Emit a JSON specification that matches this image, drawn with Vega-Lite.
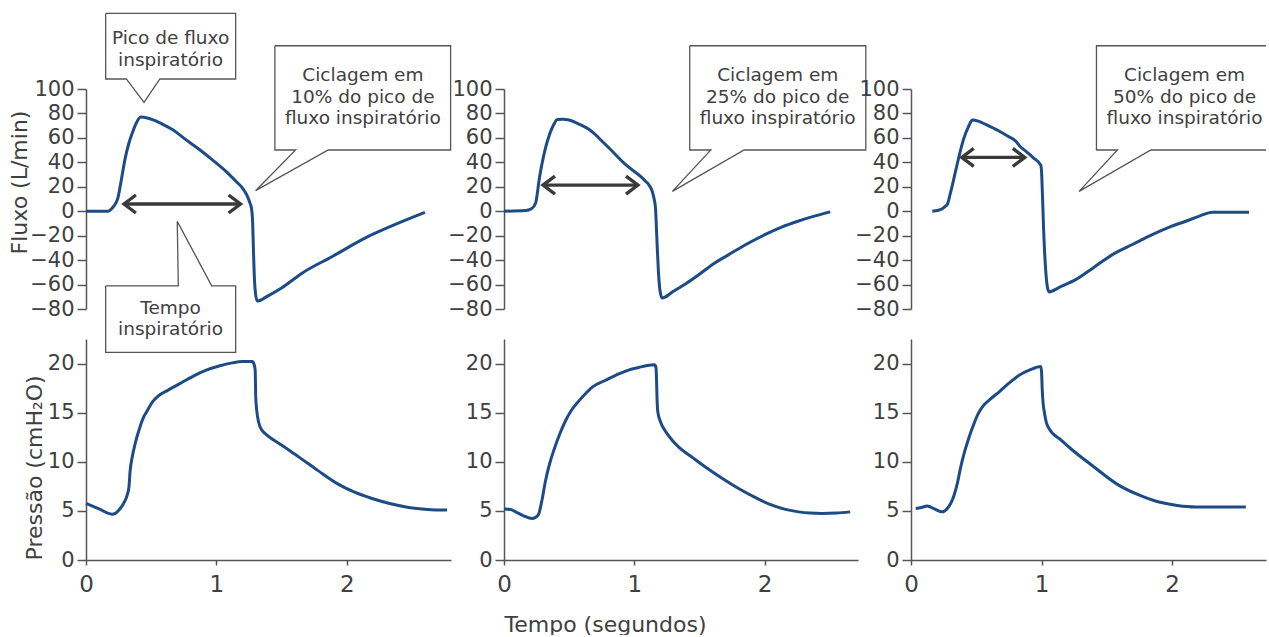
{
"$schema":"https://vega.github.io/schema/vega-lite/v6.json",
"background":"white",
"padding":{"left":8,"top":10,"right":0,"bottom":0},
"config":{"font":"DejaVu Sans","view":{"stroke":null},
"axis":{"domainColor":"#555555","domainWidth":1.5,"tickColor":"#555555","tickWidth":1.5,"labelColor":"#404040","titleColor":"#404040","titleFontWeight":"normal","grid":false,"labelFlush":false,"labelOverlap":false,"labelFont":"DejaVu Sans","titleFont":"DejaVu Sans"}},
"datasets":{
"flow":[
{"p":"p1","t":0,"v":0},{"p":"p1","t":0.1,"v":0},{"p":"p1","t":0.17,"v":0},{"p":"p1","t":0.2,"v":2.5},{"p":"p1","t":0.225,"v":6},{"p":"p1","t":0.245,"v":11},{"p":"p1","t":0.27,"v":25},{"p":"p1","t":0.3,"v":43},{"p":"p1","t":0.33,"v":56},{"p":"p1","t":0.355,"v":64},{"p":"p1","t":0.385,"v":72},{"p":"p1","t":0.42,"v":77},{"p":"p1","t":0.47,"v":76.3},{"p":"p1","t":0.52,"v":74.5},{"p":"p1","t":0.6,"v":70.5},{"p":"p1","t":0.66,"v":67},{"p":"p1","t":0.76,"v":59},{"p":"p1","t":0.87,"v":50.5},{"p":"p1","t":0.97,"v":42},{"p":"p1","t":1.07,"v":33},{"p":"p1","t":1.15,"v":24.5},{"p":"p1","t":1.2,"v":19},{"p":"p1","t":1.235,"v":13},{"p":"p1","t":1.255,"v":7.5},{"p":"p1","t":1.27,"v":2},{"p":"p1","t":1.278,"v":-8},{"p":"p1","t":1.284,"v":-30},{"p":"p1","t":1.29,"v":-50},{"p":"p1","t":1.298,"v":-65},{"p":"p1","t":1.313,"v":-73.5},{"p":"p1","t":1.4,"v":-69},{"p":"p1","t":1.5,"v":-62.8},{"p":"p1","t":1.66,"v":-50.5},{"p":"p1","t":1.89,"v":-37},{"p":"p1","t":2.14,"v":-22},{"p":"p1","t":2.4,"v":-9.6},{"p":"p1","t":2.6,"v":-1},
{"p":"p2","t":0,"v":0},{"p":"p2","t":0.166,"v":0.5},{"p":"p2","t":0.21,"v":2},{"p":"p2","t":0.243,"v":6.8},{"p":"p2","t":0.255,"v":14},{"p":"p2","t":0.268,"v":24.6},{"p":"p2","t":0.29,"v":38},{"p":"p2","t":0.319,"v":52},{"p":"p2","t":0.35,"v":63},{"p":"p2","t":0.38,"v":70.5},{"p":"p2","t":0.409,"v":75},{"p":"p2","t":0.45,"v":75.2},{"p":"p2","t":0.5,"v":74.6},{"p":"p2","t":0.57,"v":71.5},{"p":"p2","t":0.651,"v":67},{"p":"p2","t":0.779,"v":54.6},{"p":"p2","t":0.932,"v":38.3},{"p":"p2","t":1.086,"v":24.6},{"p":"p2","t":1.115,"v":21},{"p":"p2","t":1.137,"v":16.4},{"p":"p2","t":1.152,"v":10},{"p":"p2","t":1.162,"v":3},{"p":"p2","t":1.168,"v":-10},{"p":"p2","t":1.175,"v":-28},{"p":"p2","t":1.185,"v":-50},{"p":"p2","t":1.197,"v":-65},{"p":"p2","t":1.213,"v":-71},{"p":"p2","t":1.3,"v":-65.5},{"p":"p2","t":1.4,"v":-59},{"p":"p2","t":1.494,"v":-52},{"p":"p2","t":1.6,"v":-43.5},{"p":"p2","t":1.724,"v":-35.5},{"p":"p2","t":1.86,"v":-27},{"p":"p2","t":2.005,"v":-19},{"p":"p2","t":2.13,"v":-13},{"p":"p2","t":2.26,"v":-8},{"p":"p2","t":2.38,"v":-4},{"p":"p2","t":2.503,"v":-0.5},
{"p":"p3","t":0.163,"v":0},{"p":"p3","t":0.21,"v":0.8},{"p":"p3","t":0.24,"v":2},{"p":"p3","t":0.262,"v":4},{"p":"p3","t":0.278,"v":5.5},{"p":"p3","t":0.3,"v":14},{"p":"p3","t":0.342,"v":33},{"p":"p3","t":0.375,"v":48},{"p":"p3","t":0.406,"v":60},{"p":"p3","t":0.44,"v":69},{"p":"p3","t":0.47,"v":74.6},{"p":"p3","t":0.52,"v":73.5},{"p":"p3","t":0.572,"v":71},{"p":"p3","t":0.674,"v":65.6},{"p":"p3","t":0.74,"v":61.5},{"p":"p3","t":0.802,"v":57.4},{"p":"p3","t":0.84,"v":52.5},{"p":"p3","t":0.879,"v":49.2},{"p":"p3","t":0.94,"v":43.5},{"p":"p3","t":0.994,"v":37.7},{"p":"p3","t":1.0,"v":33},{"p":"p3","t":1.005,"v":20},{"p":"p3","t":1.01,"v":5},{"p":"p3","t":1.015,"v":-12},{"p":"p3","t":1.02,"v":-25},{"p":"p3","t":1.03,"v":-45},{"p":"p3","t":1.042,"v":-60},{"p":"p3","t":1.057,"v":-66},{"p":"p3","t":1.15,"v":-61.5},{"p":"p3","t":1.262,"v":-56},{"p":"p3","t":1.4,"v":-46},{"p":"p3","t":1.543,"v":-35.5},{"p":"p3","t":1.7,"v":-27},{"p":"p3","t":1.849,"v":-19.1},{"p":"p3","t":1.98,"v":-13},{"p":"p3","t":2.105,"v":-8.2},{"p":"p3","t":2.21,"v":-4},{"p":"p3","t":2.31,"v":-0.8},{"p":"p3","t":2.45,"v":-0.8},{"p":"p3","t":2.59,"v":-0.8}
],
"pres":[
{"p":"p1","t":0,"v":5.76},{"p":"p1","t":0.1,"v":5.2},{"p":"p1","t":0.2,"v":4.67},{"p":"p1","t":0.225,"v":4.75},{"p":"p1","t":0.253,"v":5.08},{"p":"p1","t":0.29,"v":5.8},{"p":"p1","t":0.316,"v":6.6},{"p":"p1","t":0.33,"v":7.5},{"p":"p1","t":0.338,"v":9},{"p":"p1","t":0.355,"v":10.5},{"p":"p1","t":0.38,"v":12},{"p":"p1","t":0.406,"v":13.2},{"p":"p1","t":0.44,"v":14.5},{"p":"p1","t":0.47,"v":15.2},{"p":"p1","t":0.51,"v":16.1},{"p":"p1","t":0.559,"v":16.75},{"p":"p1","t":0.63,"v":17.3},{"p":"p1","t":0.712,"v":17.9},{"p":"p1","t":0.82,"v":18.7},{"p":"p1","t":0.917,"v":19.3},{"p":"p1","t":1.02,"v":19.75},{"p":"p1","t":1.121,"v":20.07},{"p":"p1","t":1.2,"v":20.2},{"p":"p1","t":1.275,"v":20.2},{"p":"p1","t":1.29,"v":19.9},{"p":"p1","t":1.298,"v":19.3},{"p":"p1","t":1.3,"v":18},{"p":"p1","t":1.302,"v":16.6},{"p":"p1","t":1.31,"v":15.2},{"p":"p1","t":1.325,"v":14},{"p":"p1","t":1.35,"v":13.2},{"p":"p1","t":1.377,"v":12.85},{"p":"p1","t":1.5,"v":11.7},{"p":"p1","t":1.632,"v":10.5},{"p":"p1","t":1.78,"v":9.1},{"p":"p1","t":1.938,"v":7.7},{"p":"p1","t":2.06,"v":6.9},{"p":"p1","t":2.194,"v":6.26},{"p":"p1","t":2.33,"v":5.75},{"p":"p1","t":2.475,"v":5.35},{"p":"p1","t":2.62,"v":5.15},{"p":"p1","t":2.77,"v":5.08},
{"p":"p2","t":0,"v":5.18},{"p":"p2","t":0.05,"v":5.15},{"p":"p2","t":0.09,"v":4.9},{"p":"p2","t":0.15,"v":4.5},{"p":"p2","t":0.217,"v":4.23},{"p":"p2","t":0.25,"v":4.4},{"p":"p2","t":0.268,"v":4.74},{"p":"p2","t":0.29,"v":6},{"p":"p2","t":0.319,"v":8.1},{"p":"p2","t":0.35,"v":9.8},{"p":"p2","t":0.383,"v":11.2},{"p":"p2","t":0.43,"v":12.9},{"p":"p2","t":0.473,"v":14.2},{"p":"p2","t":0.52,"v":15.3},{"p":"p2","t":0.575,"v":16.2},{"p":"p2","t":0.63,"v":17},{"p":"p2","t":0.677,"v":17.6},{"p":"p2","t":0.78,"v":18.3},{"p":"p2","t":0.881,"v":18.95},{"p":"p2","t":0.96,"v":19.35},{"p":"p2","t":1.034,"v":19.6},{"p":"p2","t":1.1,"v":19.8},{"p":"p2","t":1.155,"v":19.87},{"p":"p2","t":1.166,"v":19.6},{"p":"p2","t":1.17,"v":18.5},{"p":"p2","t":1.174,"v":16.5},{"p":"p2","t":1.18,"v":15.1},{"p":"p2","t":1.2,"v":14.1},{"p":"p2","t":1.239,"v":13.1},{"p":"p2","t":1.29,"v":12.2},{"p":"p2","t":1.341,"v":11.5},{"p":"p2","t":1.45,"v":10.4},{"p":"p2","t":1.545,"v":9.47},{"p":"p2","t":1.67,"v":8.35},{"p":"p2","t":1.8,"v":7.28},{"p":"p2","t":1.93,"v":6.35},{"p":"p2","t":2.056,"v":5.58},{"p":"p2","t":2.16,"v":5.15},{"p":"p2","t":2.26,"v":4.9},{"p":"p2","t":2.35,"v":4.78},{"p":"p2","t":2.44,"v":4.74},{"p":"p2","t":2.55,"v":4.78},{"p":"p2","t":2.656,"v":4.9},
{"p":"p3","t":0.036,"v":5.25},{"p":"p3","t":0.08,"v":5.35},{"p":"p3","t":0.125,"v":5.5},{"p":"p3","t":0.18,"v":5.2},{"p":"p3","t":0.24,"v":4.9},{"p":"p3","t":0.275,"v":5.2},{"p":"p3","t":0.304,"v":5.75},{"p":"p3","t":0.33,"v":6.6},{"p":"p3","t":0.355,"v":7.8},{"p":"p3","t":0.38,"v":9.4},{"p":"p3","t":0.406,"v":10.8},{"p":"p3","t":0.445,"v":12.5},{"p":"p3","t":0.483,"v":13.9},{"p":"p3","t":0.515,"v":14.9},{"p":"p3","t":0.547,"v":15.6},{"p":"p3","t":0.61,"v":16.4},{"p":"p3","t":0.674,"v":17.1},{"p":"p3","t":0.75,"v":18},{"p":"p3","t":0.828,"v":18.8},{"p":"p3","t":0.91,"v":19.35},{"p":"p3","t":0.994,"v":19.7},{"p":"p3","t":1.0,"v":19.2},{"p":"p3","t":1.005,"v":17.5},{"p":"p3","t":1.012,"v":16},{"p":"p3","t":1.02,"v":15.2},{"p":"p3","t":1.035,"v":14.1},{"p":"p3","t":1.057,"v":13.4},{"p":"p3","t":1.15,"v":12.2},{"p":"p3","t":1.236,"v":11.2},{"p":"p3","t":1.4,"v":9.5},{"p":"p3","t":1.594,"v":7.6},{"p":"p3","t":1.75,"v":6.6},{"p":"p3","t":1.9,"v":5.9},{"p":"p3","t":2.04,"v":5.55},{"p":"p3","t":2.18,"v":5.4},{"p":"p3","t":2.35,"v":5.4},{"p":"p3","t":2.565,"v":5.4}
],
"arrows":[
{"p":"p1","t":0.291,"t2":1.186,"v":5.9},
{"p":"p2","t":0.299,"t2":1.028,"v":21.4},
{"p":"p3","t":0.389,"t2":0.872,"v":44}
],
"callouts":[
{"p":"p1","id":"pico","i":0,"t":0.151,"v":161.8},{"p":"p1","id":"pico","i":1,"t":1.148,"v":161.8},{"p":"p1","id":"pico","i":2,"t":1.148,"v":108.2},{"p":"p1","id":"pico","i":3,"t":0.567,"v":108.2},{"p":"p1","id":"pico","i":4,"t":0.445,"v":89.0},{"p":"p1","id":"pico","i":5,"t":0.309,"v":108.2},{"p":"p1","id":"pico","i":6,"t":0.151,"v":108.2},{"p":"p1","id":"pico","i":7,"t":0.151,"v":161.8},
{"p":"p1","id":"cic","i":0,"t":1.449,"v":135.4},{"p":"p1","id":"cic","i":1,"t":2.797,"v":135.4},{"p":"p1","id":"cic","i":2,"t":2.797,"v":50.1},{"p":"p1","id":"cic","i":3,"t":1.858,"v":50.1},{"p":"p1","id":"cic","i":4,"t":1.301,"v":16.8},{"p":"p1","id":"cic","i":5,"t":1.608,"v":50.1},{"p":"p1","id":"cic","i":6,"t":1.449,"v":50.1},{"p":"p1","id":"cic","i":7,"t":1.449,"v":135.4},
{"p":"p1","id":"tempo","i":0,"t":0.151,"v":-61.0},{"p":"p1","id":"tempo","i":1,"t":0.708,"v":-61.0},{"p":"p1","id":"tempo","i":2,"t":0.700,"v":-8.3},{"p":"p1","id":"tempo","i":3,"t":0.964,"v":-61.0},{"p":"p1","id":"tempo","i":4,"t":1.148,"v":-61.0},{"p":"p1","id":"tempo","i":5,"t":1.148,"v":-115.5},{"p":"p1","id":"tempo","i":6,"t":0.151,"v":-115.5},{"p":"p1","id":"tempo","i":7,"t":0.151,"v":-61.0},
{"p":"p2","id":"cic","i":0,"t":1.425,"v":135.4},{"p":"p2","id":"cic","i":1,"t":2.776,"v":135.4},{"p":"p2","id":"cic","i":2,"t":2.776,"v":50.1},{"p":"p2","id":"cic","i":3,"t":1.842,"v":50.1},{"p":"p2","id":"cic","i":4,"t":1.292,"v":16.2},{"p":"p2","id":"cic","i":5,"t":1.587,"v":50.1},{"p":"p2","id":"cic","i":6,"t":1.425,"v":50.1},{"p":"p2","id":"cic","i":7,"t":1.425,"v":135.4},
{"p":"p3","id":"cic","i":0,"t":2.72,"v":135.4},{"p":"p3","id":"cic","i":1,"t":1.421,"v":135.4},{"p":"p3","id":"cic","i":2,"t":1.421,"v":50.1},{"p":"p3","id":"cic","i":3,"t":1.582,"v":50.1},{"p":"p3","id":"cic","i":4,"t":1.288,"v":16.2},{"p":"p3","id":"cic","i":5,"t":1.838,"v":50.1},{"p":"p3","id":"cic","i":6,"t":2.72,"v":50.1}
],
"labels":[
{"p":"p1","t":0.649,"v":141.4,"txt":"Pico de fluxo"},{"p":"p1","t":0.649,"v":123.7,"txt":"inspiratório"},
{"p":"p1","t":2.124,"v":111.5,"txt":"Ciclagem em"},{"p":"p1","t":2.124,"v":93.7,"txt":"10% do pico de"},{"p":"p1","t":2.124,"v":75.9,"txt":"fluxo inspiratório"},
{"p":"p1","t":0.649,"v":-78.9,"txt":"Tempo"},{"p":"p1","t":0.649,"v":-96.7,"txt":"inspiratório"},
{"p":"p2","t":2.1,"v":111.5,"txt":"Ciclagem em"},{"p":"p2","t":2.1,"v":93.7,"txt":"25% do pico de"},{"p":"p2","t":2.1,"v":75.9,"txt":"fluxo inspiratório"},
{"p":"p3","t":2.096,"v":111.5,"txt":"Ciclagem em"},{"p":"p3","t":2.096,"v":93.7,"txt":"50% do pico de"},{"p":"p3","t":2.096,"v":75.9,"txt":"fluxo inspiratório"}
]
},
"columns":3,
"spacing":{"row":30,"column":53},
"bounds":"flush",
"align":"each",
"concat":[
{"width":365,"height":220,
"encoding":{"x":{"field":"t","type":"quantitative","scale":{"domain":[0,2.8],"nice":false,"zero":false},"axis":null},
"y":{"field":"v","type":"quantitative","scale":{"domain":[-80,100],"nice":false},"axis":{"values":[-80,-60,-40,-20,0,20,40,60,80,100],"labelFontSize":21,"tickSize":9,"labelPadding":3,"title":"Fluxo (L/min)","titleFontSize":22,"titlePadding":-2,"titleY":93}}},
"layer":[
{"data":{"values":[{}]},"mark":{"type":"rule","color":"#555555","strokeWidth":1.5},"encoding":{"x":{"datum":0,"type":"quantitative"},"x2":{"datum":2.8},"y":{"datum":0,"type":"quantitative"}}},
{"data":{"name":"flow"},"transform":[{"filter":"datum.p==='p1'"}],"mark":{"type":"line","color":"#1c4b86","strokeWidth":3,"interpolate":"monotone"}},
{"data":{"name":"arrows"},"transform":[{"filter":"datum.p==='p1'"}],"mark":{"type":"rule","color":"#3a3a3a","strokeWidth":3.3},"encoding":{"x2":{"field":"t2"}}},
{"data":{"name":"arrows"},"transform":[{"filter":"datum.p==='p1'"}],"mark":{"type":"point","shape":"M 1 -0.75 L 0 0 L 1 0.75","size":576,"filled":false,"color":"#3a3a3a","strokeWidth":3.3,"opacity":1}},
{"data":{"name":"arrows"},"transform":[{"filter":"datum.p==='p1'"}],"mark":{"type":"point","shape":"M -1 -0.75 L 0 0 L -1 0.75","size":576,"filled":false,"color":"#3a3a3a","strokeWidth":3.3,"opacity":1},"encoding":{"x":{"field":"t2","type":"quantitative"}}},
{"data":{"name":"callouts"},"transform":[{"filter":"datum.p==='p1'"}],"mark":{"type":"line","color":"#555555","strokeWidth":1.3,"strokeJoin":"miter"},"encoding":{"detail":{"field":"id"},"order":{"field":"i","type":"quantitative"}}},
{"data":{"name":"labels"},"transform":[{"filter":"datum.p==='p1'"}],"mark":{"type":"text","fontSize":18.5,"color":"#404040","align":"center","baseline":"middle"},"encoding":{"text":{"field":"txt"}}}
]},
{"width":354,"height":220,
"encoding":{"x":{"field":"t","type":"quantitative","scale":{"domain":[0,2.716],"nice":false,"zero":false},"axis":null},
"y":{"field":"v","type":"quantitative","scale":{"domain":[-80,100],"nice":false},"axis":{"values":[-80,-60,-40,-20,0,20,40,60,80,100],"labelFontSize":21,"tickSize":9,"labelPadding":3,"title":null}}},
"layer":[
{"data":{"values":[{}]},"mark":{"type":"rule","color":"#555555","strokeWidth":1.5},"encoding":{"x":{"datum":0,"type":"quantitative"},"x2":{"datum":2.8},"y":{"datum":0,"type":"quantitative"}}},
{"data":{"name":"flow"},"transform":[{"filter":"datum.p==='p2'"}],"mark":{"type":"line","color":"#1c4b86","strokeWidth":3,"interpolate":"monotone"}},
{"data":{"name":"arrows"},"transform":[{"filter":"datum.p==='p2'"}],"mark":{"type":"rule","color":"#3a3a3a","strokeWidth":3.3},"encoding":{"x2":{"field":"t2"}}},
{"data":{"name":"arrows"},"transform":[{"filter":"datum.p==='p2'"}],"mark":{"type":"point","shape":"M 1 -0.75 L 0 0 L 1 0.75","size":576,"filled":false,"color":"#3a3a3a","strokeWidth":3.3,"opacity":1}},
{"data":{"name":"arrows"},"transform":[{"filter":"datum.p==='p2'"}],"mark":{"type":"point","shape":"M -1 -0.75 L 0 0 L -1 0.75","size":576,"filled":false,"color":"#3a3a3a","strokeWidth":3.3,"opacity":1},"encoding":{"x":{"field":"t2","type":"quantitative"}}},
{"data":{"name":"callouts"},"transform":[{"filter":"datum.p==='p2'"}],"mark":{"type":"line","color":"#555555","strokeWidth":1.3,"strokeJoin":"miter"},"encoding":{"detail":{"field":"id"},"order":{"field":"i","type":"quantitative"}}},
{"data":{"name":"labels"},"transform":[{"filter":"datum.p==='p2'"}],"mark":{"type":"text","fontSize":18.5,"color":"#404040","align":"center","baseline":"middle"},"encoding":{"text":{"field":"txt"}}}
]},
{"width":355,"height":220,
"encoding":{"x":{"field":"t","type":"quantitative","scale":{"domain":[0,2.72],"nice":false,"zero":false},"axis":null},
"y":{"field":"v","type":"quantitative","scale":{"domain":[-80,100],"nice":false},"axis":{"values":[-80,-60,-40,-20,0,20,40,60,80,100],"labelFontSize":21,"tickSize":9,"labelPadding":3,"title":null}}},
"layer":[
{"data":{"values":[{}]},"mark":{"type":"rule","color":"#555555","strokeWidth":1.5},"encoding":{"x":{"datum":0,"type":"quantitative"},"x2":{"datum":2.72},"y":{"datum":0,"type":"quantitative"}}},
{"data":{"name":"flow"},"transform":[{"filter":"datum.p==='p3'"}],"mark":{"type":"line","color":"#1c4b86","strokeWidth":3,"interpolate":"monotone"}},
{"data":{"name":"arrows"},"transform":[{"filter":"datum.p==='p3'"}],"mark":{"type":"rule","color":"#3a3a3a","strokeWidth":3.3},"encoding":{"x2":{"field":"t2"}}},
{"data":{"name":"arrows"},"transform":[{"filter":"datum.p==='p3'"}],"mark":{"type":"point","shape":"M 1 -0.75 L 0 0 L 1 0.75","size":576,"filled":false,"color":"#3a3a3a","strokeWidth":3.3,"opacity":1}},
{"data":{"name":"arrows"},"transform":[{"filter":"datum.p==='p3'"}],"mark":{"type":"point","shape":"M -1 -0.75 L 0 0 L -1 0.75","size":576,"filled":false,"color":"#3a3a3a","strokeWidth":3.3,"opacity":1},"encoding":{"x":{"field":"t2","type":"quantitative"}}},
{"data":{"name":"callouts"},"transform":[{"filter":"datum.p==='p3'"}],"mark":{"type":"line","color":"#555555","strokeWidth":1.3,"strokeJoin":"miter"},"encoding":{"detail":{"field":"id"},"order":{"field":"i","type":"quantitative"}}},
{"data":{"name":"labels"},"transform":[{"filter":"datum.p==='p3'"}],"mark":{"type":"text","fontSize":18.5,"color":"#404040","align":"center","baseline":"middle"},"encoding":{"text":{"field":"txt"}}}
]},
{"width":365,"height":221,
"data":{"name":"pres"},"transform":[{"filter":"datum.p==='p1'"}],
"mark":{"type":"line","color":"#1c4b86","strokeWidth":3,"interpolate":"monotone"},
"encoding":{"x":{"field":"t","type":"quantitative","scale":{"domain":[0,2.8],"nice":false,"zero":false},"axis":{"values":[0,1,2],"labelFontSize":23,"tickSize":5,"labelPadding":8,"title":null}},
"y":{"field":"v","type":"quantitative","scale":{"domain":[0,22.5],"nice":false},"axis":{"values":[0,5,10,15,20],"labelFontSize":21,"tickSize":9,"labelPadding":3,"title":"Pressão (cmH₂O)","titleFontSize":22,"titlePadding":1,"titleAnchor":"start"}}}},
{"width":354,"height":221,
"encoding":{"x":{"field":"t","type":"quantitative","scale":{"domain":[0,2.716],"nice":false,"zero":false},"axis":{"values":[0,1,2],"labelFontSize":23,"tickSize":5,"labelPadding":8,"title":"Tempo (segundos)","titleFontSize":22,"titlePadding":18,"titleAnchor":"start"}},
"y":{"field":"v","type":"quantitative","scale":{"domain":[0,22.5],"nice":false},"axis":{"values":[0,5,10,15,20],"labelFontSize":21,"tickSize":9,"labelPadding":3,"title":null}}},
"layer":[
{"data":{"values":[{}]},"mark":{"type":"rule","color":"#555555","strokeWidth":1.5},"encoding":{"x":{"datum":0,"type":"quantitative"},"x2":{"datum":2.8},"y":{"datum":0,"type":"quantitative"}}},
{"data":{"name":"pres"},"transform":[{"filter":"datum.p==='p2'"}],"mark":{"type":"line","color":"#1c4b86","strokeWidth":3,"interpolate":"monotone"}}
]},
{"width":355,"height":221,
"data":{"name":"pres"},"transform":[{"filter":"datum.p==='p3'"}],
"mark":{"type":"line","color":"#1c4b86","strokeWidth":3,"interpolate":"monotone"},
"encoding":{"x":{"field":"t","type":"quantitative","scale":{"domain":[0,2.72],"nice":false,"zero":false},"axis":{"values":[0,1,2],"labelFontSize":23,"tickSize":5,"labelPadding":8,"title":null}},
"y":{"field":"v","type":"quantitative","scale":{"domain":[0,22.5],"nice":false},"axis":{"values":[0,5,10,15,20],"labelFontSize":21,"tickSize":9,"labelPadding":3,"title":null}}}}
]
}
